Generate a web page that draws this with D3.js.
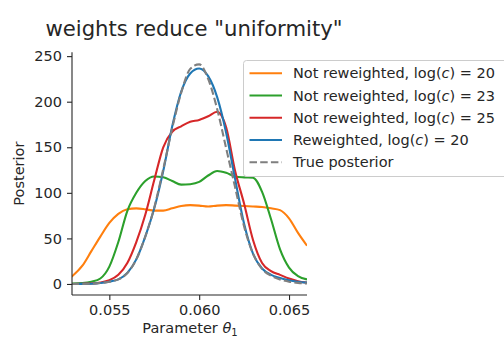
<!DOCTYPE html>
<html>
<head>
<meta charset="utf-8">
<script src="https://cdn.jsdelivr.net/npm/d3@7"></script>
<style>
  body { margin: 0; background: white; }
  text { font-family: "DejaVu Sans", sans-serif; fill: #262626; }
</style>
</head>
<body>
<div id="chart"></div>
<script>
var thetas = [0.0529, 0.0535, 0.0540, 0.0545, 0.0550, 0.0555, 0.0560, 0.0565, 0.0570,
              0.0575, 0.0580, 0.0585, 0.0590, 0.0595, 0.0600, 0.0605, 0.0610, 0.0615,
              0.0620, 0.0625, 0.0630, 0.0635, 0.0640, 0.0645, 0.0650, 0.0655, 0.0660];

var notRw20 = [8, 20, 36, 52, 67, 77, 82, 83, 82, 80.5, 80.5, 83, 85.5, 86.5,
               86, 85, 86, 86.5, 86, 85.5, 85, 84.5, 83, 81, 72, 56, 42];
var notRw23 = [0.5, 1, 2.5, 6, 19, 46, 80, 100, 113, 118, 117, 113, 109, 109.5,
               112, 119, 124, 122, 118, 117, 116.5, 101, 71, 38, 18, 8.5, 5];
var notRw25 = [0, 0.3, 0.6, 1.5, 4, 10, 23, 46, 76, 114, 150, 167, 173, 178,
               180, 184, 189, 172, 124, 88, 48, 23, 14, 10, 6, 3, 1.5];
var rw20    = [0, 0.1, 0.3, 1, 2.5, 5, 12, 27, 52, 83, 124, 173, 211, 231,
               236.5, 228, 205, 166, 115, 66, 33, 17, 10, 6.5, 4, 2.5, 1.5];
var truePost = [0, 0.1, 0.3, 1, 2.5, 5, 12, 27, 52, 84, 126, 171, 210, 236,
                241, 225, 192, 149, 106, 63, 33, 16.5, 9, 5, 2.5, 1.2, 0.5];

var seriesNames = ["Not reweighted, log(c) = 20", "Not reweighted, log(c) = 23",
                   "Not reweighted, log(c) = 25", "Reweighted, log(c) = 20", "True posterior"];
var seriesColors = ["#ff7f0e", "#2ca02c", "#d62728", "#1f77b4", "#7f7f7f"];
var xTicks = [0.055, 0.060, 0.065];
var yTicks = [0, 50, 100, 150, 200, 250];

var width = 504, height = 338;
var plot = {left: 72, right: 307, top: 52.3, bottom: 295};

var svg = d3.select("#chart").append("svg")
    .attr("width", width)
    .attr("height", height);

var x = d3.scaleLinear().domain([0.0529, 0.066]).range([plot.left - 0.4, plot.right]);
var y = d3.scaleLinear().domain([-12.1, 254.2]).range([plot.bottom, plot.top]);

svg.append("clipPath").attr("id", "plot-clip")
  .append("rect")
    .attr("x", plot.left).attr("y", plot.top - 10)
    .attr("width", plot.right - plot.left).attr("height", plot.bottom - plot.top + 10);

var allSeries = [notRw20, notRw23, notRw25, rw20, truePost];

var line = d3.line()
    .x(function(d, i) { return x(thetas[i]); })
    .y(function(d) { return y(d); })
    .curve(d3.curveMonotoneX);

var lines = svg.append("g").attr("clip-path", "url(#plot-clip)");
allSeries.forEach(function(s, i) {
  lines.append("path")
    .datum(s)
    .attr("d", line)
    .attr("fill", "none")
    .attr("stroke", seriesColors[i])
    .attr("stroke-width", 2.1)
    .attr("stroke-dasharray", i == 4 ? "7.5,3.2" : null)
    .attr("stroke-linejoin", "round");
});

// axes (only left and bottom spines)
var xAxis = svg.append("g")
    .attr("transform", "translate(0," + plot.bottom + ")")
    .call(d3.axisBottom(x).tickValues(xTicks).tickFormat(d3.format(".3f")).tickSizeOuter(0).tickSize(5).tickPadding(5));
var yAxis = svg.append("g")
    .attr("transform", "translate(" + plot.left + ",0)")
    .call(d3.axisLeft(y).tickValues(yTicks).tickSizeOuter(0).tickSize(5).tickPadding(5));

[xAxis, yAxis].forEach(function(a) {
  a.select(".domain").attr("stroke", "#262626").attr("stroke-width", 1.1);
  a.selectAll(".tick line").attr("stroke", "#262626").attr("stroke-width", 1.1);
  a.selectAll(".tick text").style("font-family", "DejaVu Sans").style("font-size", "14.5px").attr("fill", "#262626");
});
xAxis.select(".domain").attr("d", "M" + plot.left + ",0H" + plot.right);
yAxis.select(".domain").attr("d", "M0," + plot.top + "V" + plot.bottom);

// title and labels
svg.append("text")
    .attr("x", 194).attr("y", 36)
    .attr("text-anchor", "middle")
    .style("font-size", "21.2px")
    .text('weights reduce "uniformity"');

var xl = svg.append("text")
    .attr("x", 190).attr("y", 333)
    .attr("text-anchor", "middle")
    .style("font-size", "14.5px");
xl.append("tspan").text("Parameter ");
xl.append("tspan").style("font-style", "italic").text("θ");
xl.append("tspan").attr("dy", 3).style("font-size", "10px").text("1");

svg.append("text")
    .attr("transform", "translate(24," + ((plot.top + plot.bottom) / 2) + ") rotate(-90)")
    .attr("text-anchor", "middle")
    .style("font-size", "14.5px")
    .text("Posterior");

// legend
var legend = svg.append("g");
legend.append("rect")
    .attr("x", 243.5).attr("y", 60.5)
    .attr("width", 280).attr("height", 116)
    .attr("rx", 3)
    .attr("fill", "white").attr("fill-opacity", 0.8)
    .attr("stroke", "#cccccc");

seriesNames.forEach(function(name, i) {
  var cy = 73.3 + i * 22.25;
  legend.append("line")
    .attr("x1", 249.5).attr("x2", 282)
    .attr("y1", cy).attr("y2", cy)
    .attr("stroke", seriesColors[i])
    .attr("stroke-width", 2.1)
    .attr("stroke-dasharray", i == 4 ? "7.5,3.2" : null);
  var t = legend.append("text")
    .attr("x", 293).attr("y", cy + 5)
    .style("font-size", "14.5px");
  var m = name.match(/^(.*log\()c(\).*)$/);
  if (m) {
    t.append("tspan").text(m[1]);
    t.append("tspan").style("font-style", "italic").text("c");
    t.append("tspan").text(m[2]);
  } else {
    t.text(name);
  }
});
</script>
</body>
</html>
